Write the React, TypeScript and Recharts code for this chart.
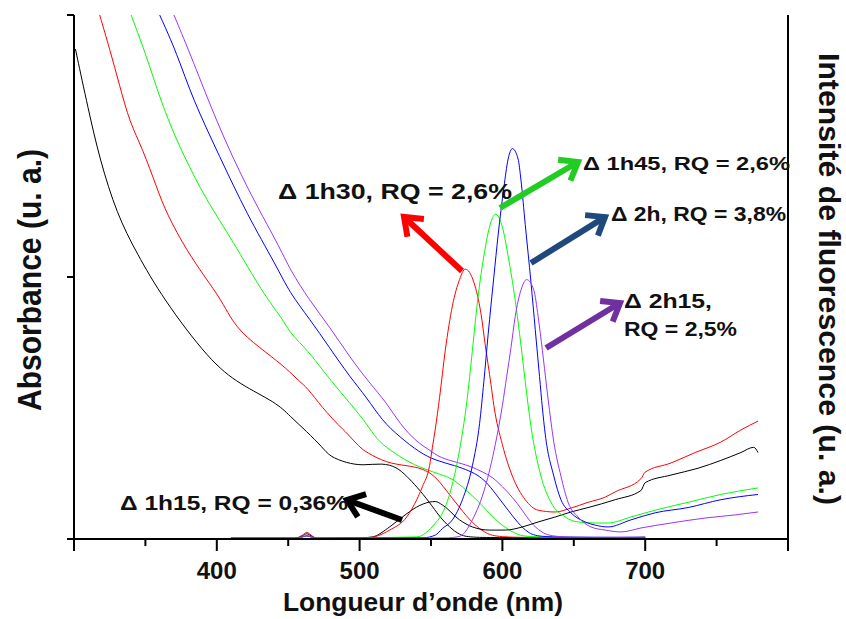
import React from "react";
import { LineChart, Line, XAxis, YAxis } from "recharts";

// wavelength (nm), value (plot units 0..200)
const absBlack: [number, number][] = [
  [301, 187], [310, 164], [318, 145], [330, 124], [344, 109], [362, 92], [395, 68],
  [416, 59], [442, 52], [451, 47], [463, 41], [474, 35], [479, 31.5], [491, 29],
  [502, 28], [516, 29], [526, 27.5], [533, 24], [540, 20], [549, 14], [556, 8.5],
  [563, 4.5], [570, 1.5], [577, 0.6], [600, 0.5], [630, 0.7], [660, 0.4], [700, 0.6],
];
const absRed: [number, number][] = [
  [318, 200], [325, 187], [332, 173], [339, 159], [348, 149], [358, 134], [365, 124],
  [379, 110], [393, 99], [402, 92], [407, 87], [416, 79], [435, 71], [449, 65],
  [458, 60], [463, 58], [474, 50], [486, 43], [491, 40.5], [500, 35], [505, 33],
  [519, 29], [533, 28], [544, 27], [553, 24], [560, 19], [570, 12], [579, 6],
  [588, 2.3], [595, 0.8], [620, 0.5], [650, 0.6], [680, 0.4], [700, 0.6],
];
const absGreen: [number, number][] = [
  [340, 200], [351, 184], [362, 165], [376, 147], [393, 129], [411, 114], [432, 94],
  [446, 84], [451, 79], [458, 75], [465, 71], [479, 61], [493, 52], [505, 44],
  [512, 38], [521, 34], [535, 29], [549, 26], [560, 24], [565, 23], [574, 19],
  [584, 14], [593, 8.4], [602, 4.2], [611, 1.5], [618, 0.8], [650, 0.6], [680, 0.5],
  [700, 0.6],
];
const absBlue: [number, number][] = [
  [360, 200], [372, 185.5], [383, 168], [402, 146], [421, 124], [442, 104], [451, 94],
  [465, 84], [479, 73], [493, 62], [505, 54], [516, 45], [528, 39], [542, 33],
  [553, 30], [567, 28], [577, 26], [584, 24], [590, 21], [597, 16], [604, 11],
  [611, 6], [618, 2.3], [625, 0.8], [650, 0.7], [680, 0.6], [700, 0.7],
];
const absPurple: [number, number][] = [
  [370, 200], [383, 183], [400, 159], [421, 134], [444, 111.5], [451, 103], [465, 91],
  [479, 81], [493, 69.5], [507, 59.5], [519, 52], [528, 44], [540, 37], [549, 34],
  [556, 31], [570, 29], [579, 27.5], [586, 25.6], [593, 23.7], [600, 20], [607, 16],
  [614, 11], [620, 6], [627, 2.7], [634, 0.8], [660, 0.6], [700, 0.7],
];

const emBlack: [number, number][] = [
  [410, 0.3], [455, 0.3], [460, 1.2], [463, 2], [466, 1.2], [470, 0.3], [500, 0.4],
  [509, 0.8], [521, 4.6], [530, 8.4], [540, 12.2], [549, 14.1], [553, 14.3], [558, 13],
  [570, 7.3], [579, 4.6], [591, 3.4], [602, 3.4], [614, 4.6], [625, 6.5], [637, 8.4],
  [648, 10.3], [660, 12], [679, 15], [697, 18.5], [700, 21.5], [718, 24.4], [737, 27],
  [753, 30], [767, 33], [776, 35], [779, 33],
];
const emRed: [number, number][] = [
  [410, 0.3], [455, 0.3], [460, 1.5], [463, 2.5], [466, 1.5], [470, 0.3], [505, 0.4],
  [521, 3.4], [533, 8.4], [540, 15], [544, 20], [549, 28], [551, 35], [553, 42],
  [556, 54], [560, 72], [565, 89], [570, 99], [574, 103], [580, 98], [585, 86],
  [588, 74], [592, 59], [594, 51], [600, 36], [607, 24], [616, 15], [625, 11],
  [637, 10.3], [648, 11.8], [660, 14], [672, 16], [679, 18], [697, 23], [700, 25.5],
  [718, 29], [735, 33], [753, 37], [767, 41.6], [779, 45],
];
const emGreen: [number, number][] = [
  [410, 0.3], [455, 0.3], [460, 0.8], [463, 1.2], [466, 0.8], [470, 0.3], [540, 0.8],
  [553, 6], [556, 8], [560, 12.2], [563, 17], [570, 34], [575, 52], [579, 72],
  [582, 88], [587, 108], [592, 121], [595, 124], [600, 119], [604, 108], [609, 91],
  [613, 74], [616, 60], [620, 43], [627, 24], [634, 14], [644, 8.4], [653, 6.5],
  [665, 6.1], [674, 6.1], [690, 8.4], [707, 11], [730, 14], [753, 17], [779, 19.5],
];
const emBlue: [number, number][] = [
  [410, 0.3], [455, 0.3], [460, 0.8], [463, 1.2], [466, 0.8], [470, 0.3], [545, 0.5],
  [553, 1.5], [558, 4], [565, 7.3], [572, 15], [579, 28], [584, 44], [587, 60],
  [590, 78], [594, 100], [597, 116], [601, 134], [604, 145], [607, 149], [611, 145],
  [613, 137], [616, 120], [620, 98], [623, 80], [626, 62], [628, 50], [630, 40],
  [636, 24], [641, 15], [648, 10], [658, 6.5], [665, 5.3], [674, 4.6], [690, 7.3],
  [707, 10], [730, 12], [753, 15], [779, 17],
];
const emPurple: [number, number][] = [
  [410, 0.3], [455, 0.3], [460, 0.8], [463, 1.2], [466, 0.8], [470, 0.3], [560, 0.4],
  [570, 1], [579, 7.3], [588, 20], [595, 36], [600, 51], [603, 62], [606, 73],
  [609, 85], [613, 95], [617, 99], [622, 95], [625, 85], [628, 72], [631, 58],
  [633, 49], [636, 37], [641, 24], [646, 14], [653, 8.4], [662, 4.6], [672, 3.4],
  [683, 2.7], [697, 4.2], [718, 6.1], [742, 8], [763, 9.2], [779, 10.3],
];

const X_TICKS = [300, 350, 400, 450, 500, 550, 600, 650, 700, 750, 800];
const Y_TICKS = [0, 100, 200];

const FONT = "'Liberation Sans', Arial, sans-serif";

const series = [
  { key: "absBlack", pts: absBlack, color: "#000000", curve: "basis" },
  { key: "absRed", pts: absRed, color: "#ff0000", curve: "basis" },
  { key: "absGreen", pts: absGreen, color: "#00ff00", curve: "basis" },
  { key: "absBlue", pts: absBlue, color: "#0000ff", curve: "basis" },
  { key: "absPurple", pts: absPurple, color: "#9933ff", curve: "basis" },
  { key: "emBlack", pts: emBlack, color: "#000000", curve: "monotone" },
  { key: "emRed", pts: emRed, color: "#ff0000", curve: "monotone" },
  { key: "emGreen", pts: emGreen, color: "#00ff00", curve: "monotone" },
  { key: "emBlue", pts: emBlue, color: "#0000ff", curve: "monotone" },
  { key: "emPurple", pts: emPurple, color: "#9933ff", curve: "monotone" },
];

const toRows = (pts: [number, number][]) => pts.map(([nm, v]) => ({ nm, v }));

function XTick(props: any) {
  const { x, y, payload } = props;
  const v = payload.value;
  const major = v % 100 === 0;
  return (
    <g>
      <line x1={x} x2={x} y1={y} y2={y + (major ? 12 : 7)} stroke="#000" strokeWidth={2} />
      {major && v > 300 && v < 800 && (
        <text x={x} y={y + 40} textAnchor="middle" fontFamily={FONT} fontWeight="bold" fontSize={24} fill="#111">
          {v}
        </text>
      )}
    </g>
  );
}

const EmptyTick = () => <g />;

function Arrow({ x1, y1, x2, y2, color }: { x1: number; y1: number; x2: number; y2: number; color: string }) {
  const a = Math.atan2(y2 - y1, x2 - x1);
  const h = 20;
  const s = 0.65;
  const p1 = `${x2 - h * Math.cos(a - s)},${y2 - h * Math.sin(a - s)}`;
  const p2 = `${x2 - h * Math.cos(a + s)},${y2 - h * Math.sin(a + s)}`;
  return (
    <g stroke={color} strokeWidth={6} fill="none" strokeLinecap="butt" strokeLinejoin="miter">
      <line x1={x1} y1={y1} x2={x2 - 3 * Math.cos(a)} y2={y2 - 3 * Math.sin(a)} />
      <polyline points={`${p1} ${x2},${y2} ${p2}`} />
    </g>
  );
}

function Note({ x, y, w, size, children }: { x: number; y: number; w: number; size: number; children: string }) {
  return (
    <text x={x} y={y} fontFamily={FONT} fontWeight="bold" fontSize={size} fill="#111"
      textLength={w} lengthAdjust="spacingAndGlyphs">
      {children}
    </text>
  );
}

export default function App() {
  return (
    <div style={{ position: "absolute", left: 0, top: 0, width: 846, height: 619, background: "#fff" }}>
      <LineChart width={846} height={619} margin={{ top: 15, right: 38, bottom: 40, left: 54 }}>
        <XAxis xAxisId="b" type="number" dataKey="nm" domain={[300, 800]} ticks={X_TICKS}
          allowDataOverflow tickSize={0} tickMargin={0} tickLine={false} tick={<XTick />}
          axisLine={{ stroke: "#000", strokeWidth: 2 }} height={40} />
        <XAxis xAxisId="t" orientation="top" type="number" dataKey="nm" domain={[300, 800]}
          tick={false} tickLine={false} axisLine={{ stroke: "#000", strokeWidth: 2 }} height={0} />
        <YAxis yAxisId="l" type="number" domain={[0, 200]} ticks={Y_TICKS} allowDataOverflow
          tick={EmptyTick} tickSize={7} tickLine={{ stroke: "#000", strokeWidth: 2 }}
          axisLine={{ stroke: "#000", strokeWidth: 2 }} width={20} />
        <YAxis yAxisId="r" orientation="right" type="number" domain={[0, 200]} ticks={Y_TICKS}
          tick={EmptyTick} tickSize={10} tickLine={{ stroke: "#000", strokeWidth: 2 }}
          axisLine={{ stroke: "#000", strokeWidth: 2 }} width={20} />
        {series.map((s) => (
          <Line key={s.key} xAxisId="b" yAxisId="l" data={toRows(s.pts)} dataKey="v" type={s.curve as any}
            stroke={s.color} strokeWidth={1} dot={false} activeDot={false} isAnimationActive={false} />
        ))}
      </LineChart>
      <svg width={846} height={619} style={{ position: "absolute", left: 0, top: 0, pointerEvents: "none" }}>
        <text transform="translate(41,280) rotate(-90)" textAnchor="middle" fontFamily={FONT}
          fontWeight="bold" fontSize={34} fill="#111" textLength={262} lengthAdjust="spacingAndGlyphs">
          Absorbance (u. a.)
        </text>
        <text transform="translate(819,279) rotate(90)" textAnchor="middle" fontFamily={FONT}
          fontWeight="bold" fontSize={30} fill="#111" textLength={452} lengthAdjust="spacingAndGlyphs">
          Intensité de fluorescence (u. a.)
        </text>
        <text x={423} y={611} textAnchor="middle" fontFamily={FONT} fontWeight="bold" fontSize={26}
          fill="#111" textLength={280} lengthAdjust="spacingAndGlyphs">
          Longueur d’onde (nm)
        </text>

        <Arrow x1={462} y1={271} x2={404} y2={217} color="#ff0000" />
        <Arrow x1={500} y1={208} x2={578} y2={162} color="#22cc22" />
        <Arrow x1={531} y1={263} x2={605} y2={217} color="#1f497d" />
        <Arrow x1={546} y1={348} x2={620} y2={303} color="#7030a0" />
        <Arrow x1={402} y1={520} x2={347} y2={500} color="#000000" />

        <Note x={278} y={199} w={234} size={22}>Δ 1h30, RQ = 2,6%</Note>
        <Note x={583} y={170} w={207} size={19}>Δ 1h45, RQ = 2,6%</Note>
        <Note x={611} y={221} w={175} size={20}>Δ 2h, RQ = 3,8%</Note>
        <Note x={624} y={308} w={88} size={20}>Δ 2h15,</Note>
        <Note x={624} y={336} w={113} size={20}>RQ = 2,5%</Note>
        <Note x={120} y={510} w={228} size={20}>Δ 1h15, RQ = 0,36%</Note>
      </svg>
    </div>
  );
}
